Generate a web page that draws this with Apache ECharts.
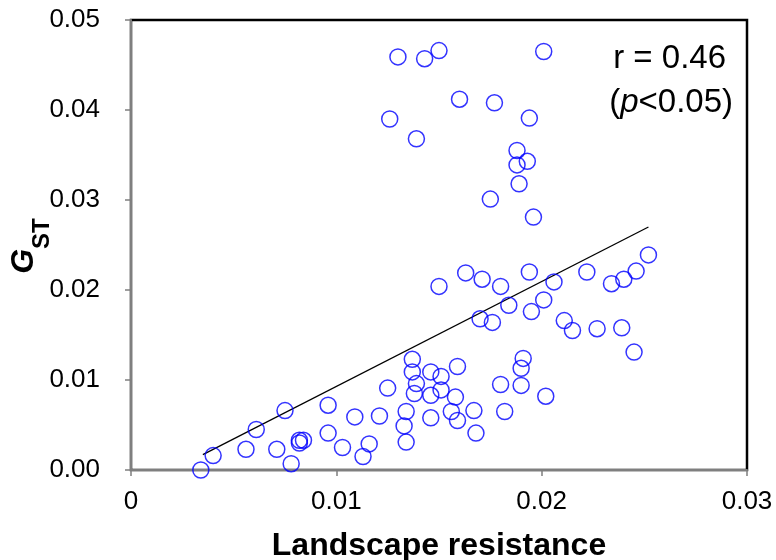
<!DOCTYPE html>
<html>
<head>
<meta charset="utf-8">
<script src="https://cdn.jsdelivr.net/npm/echarts@6/dist/echarts.min.js"></script>
<style>html,body{margin:0;padding:0;background:#fff;}#c{width:776px;height:560px;}</style>
</head>
<body>
<div id="c"></div>
<script>
const xValues = [0.0130,0.0143,0.0150,0.0126,0.0139,0.0201,0.0160,0.0177,0.0194,0.0188,0.0193,0.0188,0.0189,0.0175,0.0196,0.0150,0.0137,0.0137,0.0146,0.0151,0.0139,0.0138,0.0146,0.0151,0.0159,0.0125,0.0134,0.0146,0.0133,0.0134,0.0096,0.0109,0.0121,0.0096,0.0103,0.0116,0.0113,0.0075,0.0061,0.0056,0.0071,0.0082,0.0084,0.0082,0.0078,0.0040,0.0034,0.0252,0.0246,0.0240,0.0234,0.0222,0.0206,0.0194,0.0201,0.0195,0.0184,0.0180,0.0171,0.0163,0.0170,0.0176,0.0211,0.0215,0.0227,0.0239,0.0245,0.0191,0.0190,0.0180,0.0190,0.0158,0.0156,0.0159,0.0167,0.0182,0.0168,0.0202];
const yValues = [0.0459,0.0457,0.0466,0.0390,0.0368,0.0465,0.0412,0.0408,0.0391,0.0355,0.0343,0.0339,0.0318,0.0301,0.0281,0.0204,0.0123,0.0109,0.0109,0.0104,0.0096,0.0085,0.0083,0.0089,0.0115,0.0091,0.0065,0.0058,0.0049,0.0031,0.0072,0.0059,0.0060,0.0041,0.0025,0.0029,0.0015,0.0066,0.0045,0.0023,0.0023,0.0033,0.0033,0.0030,0.0007,0.0016,0.0000,0.0239,0.0221,0.0212,0.0207,0.0220,0.0209,0.0220,0.0189,0.0176,0.0183,0.0204,0.0212,0.0219,0.0168,0.0164,0.0166,0.0155,0.0157,0.0158,0.0131,0.0124,0.0113,0.0095,0.0094,0.0081,0.0065,0.0055,0.0066,0.0065,0.0041,0.0082];
const fitX = [0.0035, 0.0252];
const fitY = [0.0017, 0.0270];
const xTicks = [0, 0.01, 0.02, 0.03];
const yTicks = [0, 0.01, 0.02, 0.03, 0.04, 0.05];
const statLine1 = 'r = 0.46';
const xTitle = 'Landscape resistance';

const FONT = "'Liberation Sans', Arial, sans-serif";
const chart = echarts.init(document.getElementById('c'), null, {renderer: 'canvas'});
const pts = xValues.map((x, i) => [x, yValues[i]]);
const fit = fitX.map((x, i) => [x, fitY[i]]);

chart.setOption({
  animation: false,
  backgroundColor: '#fff',
  grid: {left: 131, right: 29, top: 20, bottom: 90, containLabel: false, outerBoundsMode: 'none',
    show: true, borderColor: '#000', borderWidth: 2.5, backgroundColor: 'transparent'},
  xAxis: {
    type: 'value', min: xTicks[0], max: xTicks[xTicks.length - 1], interval: 0.01,
    splitLine: {show: false},
    axisLine: {lineStyle: {color: '#7f7f7f', width: 2}},
    axisTick: {show: true, length: 6, lineStyle: {color: '#7f7f7f', width: 1.5}},
    axisLabel: {color: '#000', fontSize: 26, fontFamily: FONT, margin: 19,
      formatter: v => (v === 0 ? '0' : v.toFixed(2))},
    name: xTitle, nameLocation: 'middle', nameGap: 60,
    nameTextStyle: {color: '#000', fontSize: 32, fontWeight: 'bold', fontFamily: FONT}
  },
  yAxis: {
    type: 'value', min: yTicks[0], max: yTicks[yTicks.length - 1], interval: 0.01,
    splitLine: {show: false},
    axisLine: {lineStyle: {color: '#7f7f7f', width: 2}},
    axisTick: {show: true, length: 6, lineStyle: {color: '#7f7f7f', width: 1.5}},
    axisLabel: {color: '#000', fontSize: 26, fontFamily: FONT, margin: 31,
      formatter: v => v.toFixed(2)}
  },
  series: [
    {
      type: 'line', data: fit, symbol: 'none', silent: true,
      lineStyle: {color: '#000', width: 1.3}, z: 3
    },
    {
      type: 'scatter', data: pts, symbol: 'circle', symbolSize: 16,
      itemStyle: {color: 'rgba(0,0,0,0)', borderColor: '#0000ff', borderWidth: 1.5}, z: 4
    }
  ],
  graphic: [
    {type: 'text', x: 54, y: 246, rotation: Math.PI / 2,
      style: {text: '{g|G}{s|ST}', align: 'center', verticalAlign: 'bottom', fontFamily: FONT, fill: '#000',
        rich: {
          g: {fontSize: 32, fontWeight: 'bold', fontStyle: 'italic', fontFamily: FONT, fill: '#000', verticalAlign: 'bottom', lineHeight: 32, padding: [0, 0, 14, 0]},
          s: {fontSize: 24, fontWeight: 'bold', fontFamily: FONT, fill: '#000', verticalAlign: 'bottom', lineHeight: 24}
        }}},
    {type: 'text', right: 50, top: 42, style: {text: statLine1, fontSize: 33, fontFamily: FONT, fill: '#000', align: 'right'}},
    {type: 'text', right: 43, top: 86, style: {text: '({i|p}<0.05)', fontSize: 33, fontFamily: FONT, fill: '#000',
      rich: {i: {fontSize: 33, fontStyle: 'italic', fontFamily: FONT, fill: '#000'}}}}
  ]
});
</script>
</body>
</html>
